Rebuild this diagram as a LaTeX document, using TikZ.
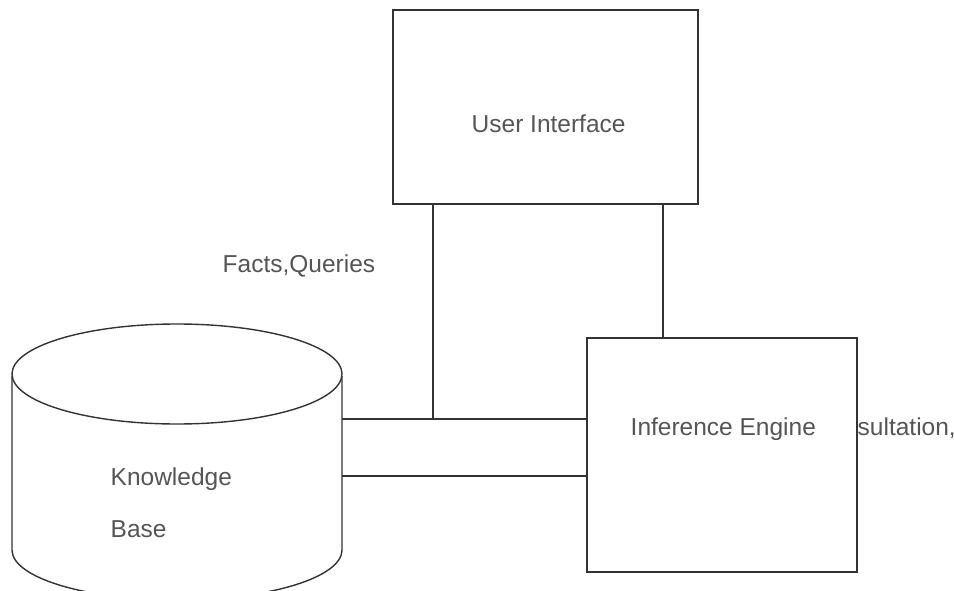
\documentclass[tikz,border=0pt]{standalone}
\usepackage{fontspec}
\setmainfont{Liberation Sans}
\definecolor{ink}{HTML}{333333}
\definecolor{txt}{HTML}{555555}
\begin{document}
\begin{tikzpicture}[x=1pt,y=-1pt,line width=1.4pt,draw=ink,
  box/.style={draw=ink,line width=1.4pt,inner sep=0pt},
  lbl/.style={text=txt,font=\fontsize{24.5}{28}\selectfont,anchor=base west,inner sep=0pt}]
\useasboundingbox (0,0) rectangle (954,591);
% Knowledge base cylinder
\begin{scope}
\clip (0,0) rectangle (954,591);
\draw[ink] (12,376) -- (12,550) arc[start angle=180,end angle=0,x radius=165,y radius=50] -- (342,376);
\draw[ink] (177,374) ellipse [x radius=165, y radius=50];
\end{scope}
\coordinate (kbU) at (342,419);
\coordinate (kbL) at (342,476);
% boxes
\node[box,minimum width=305pt,minimum height=194pt] (ui) at (545.5,107) {};
\node[box,minimum width=270pt,minimum height=234pt] (ie) at (722,455) {};
% texts
\node[lbl] (uit) at (471,133) {User Interface};
\node[lbl] (fq) at (222,272) {Facts,Queries};
\node[lbl] (kb1) at (110,485) {Knowledge};
\node[lbl] (kb2) at (110,537) {Base};
\node[lbl] (iet) at (630,435) {Inference Engine};
\node[lbl] (cons) at (857,435) {sultation,};
% connectors
\coordinate (j1) at (433,419);
\coordinate (j2) at (663,0);
\draw[ink] (ui.south -| j1) -- (j1);
\draw[ink] (ui.south -| j2) -- (ie.north -| j2);
\draw[ink] (kbU) -- (ie.west |- kbU);
\draw[ink] (kbL) -- (ie.west |- kbL);
\end{tikzpicture}
\end{document}
